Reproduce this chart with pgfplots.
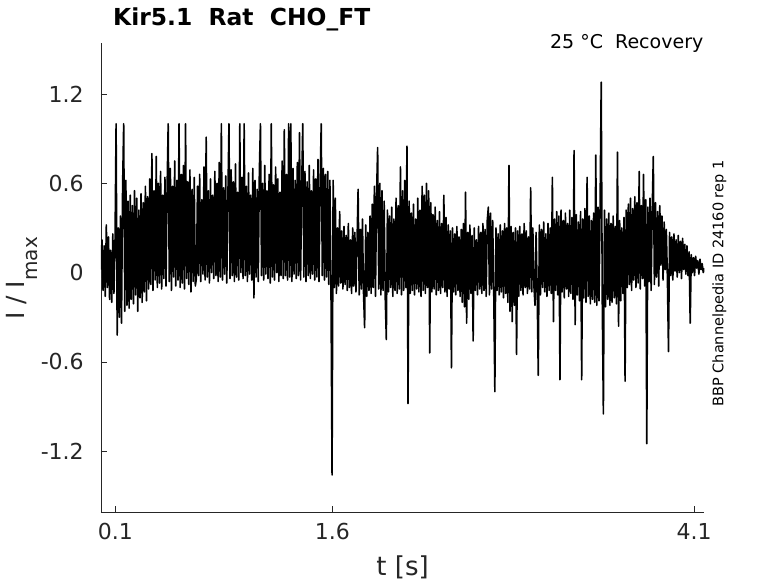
\documentclass[border=0pt]{standalone}
\usepackage{pgfplots}
\pgfplotsset{compat=1.18}
\usepackage{fontspec}
\setmainfont{DejaVu Sans}
\definecolor{axgray}{HTML}{262626}
\begin{document}
\begin{tikzpicture}
\begin{axis}[
  scale only axis, width=603.4pt, height=469pt,
  at={(0pt,0pt)}, anchor=south west,
  xmin=0, xmax=4.17, ymin=-1.611, ymax=1.541,
  axis x line=bottom, axis y line=left,
  axis line style={-, draw=axgray, line width=0.6pt},
  tick align=inside, major tick length=6pt,
  tick style={axgray, line width=0.6pt},
  xtick={0.1,1.6,4.1}, xticklabels={0.1,1.6,4.1},
  ytick={-1.2,-0.6,0,0.6,1.2}, yticklabels={-1.2,-0.6,0,0.6,1.2},
  ticklabel style={font=\fontsize{22}{26}\selectfont, text=axgray, inner sep=0pt},
  xticklabel style={anchor=north, yshift=-11pt},
  yticklabel style={anchor=east, xshift=-17pt},
]
\addplot[black, line width=1.6pt, line join=round, mark=none] table[row sep=\\, x expr=\coordindex*0.0075, y index=0] {
y\\
0.02\\ 0.22\\ -0.12\\ 0.18\\ -0.16\\ 0.32\\ -0.10\\ 0.24\\ -0.18\\ 0.15\\
-0.20\\ 0.26\\ -0.14\\ 0.19\\ 1.00\\ -0.42\\ 0.30\\ -0.30\\ 0.38\\ -0.34\\
0.58\\ 1.00\\ -0.26\\ 0.62\\ -0.22\\ 0.48\\ -0.24\\ 0.52\\ -0.18\\ 0.45\\
-0.21\\ 0.55\\ -0.15\\ 0.50\\ -0.26\\ 0.42\\ -0.17\\ 0.53\\ -0.20\\ 0.47\\
-0.13\\ 0.58\\ -0.19\\ 0.51\\ -0.11\\ 0.63\\ -0.08\\ 0.80\\ -0.12\\ 0.55\\
-0.05\\ 0.78\\ -0.10\\ 0.60\\ -0.07\\ 0.68\\ -0.11\\ 0.52\\ -0.04\\ 0.64\\
-0.09\\ 0.57\\ 1.00\\ -0.06\\ 0.70\\ -0.12\\ 0.58\\ -0.03\\ 0.75\\ -0.09\\
0.62\\ -0.05\\ 1.00\\ -0.10\\ 0.66\\ -0.07\\ 0.72\\ -0.11\\ 1.00\\ -0.04\\
0.61\\ -0.08\\ 0.69\\ -0.13\\ 0.56\\ -0.06\\ 0.64\\ -0.09\\ -0.04\\ 0.58\\
-0.02\\ 0.66\\ -0.06\\ 0.49\\ -0.01\\ 0.71\\ -0.05\\ 0.91\\ -0.03\\ 0.55\\
-0.07\\ 0.63\\ 0.00\\ 0.52\\ -0.04\\ 0.68\\ -0.02\\ 0.60\\ -0.06\\ 0.74\\
-0.03\\ 1.00\\ -0.05\\ 0.57\\ -0.01\\ 0.65\\ -0.07\\ 0.50\\ 1.00\\ -0.04\\
0.69\\ -0.02\\ 0.61\\ -0.06\\ 0.73\\ -0.03\\ 0.54\\ -0.05\\ 1.00\\ 0.00\\
0.64\\ -0.04\\ 1.00\\ -0.02\\ 0.58\\ -0.06\\ 0.67\\ -0.01\\ 0.52\\ -0.05\\
0.70\\ -0.17\\ 0.62\\ -0.03\\ 0.56\\ -0.06\\ 0.68\\ 1.00\\ -0.02\\ 0.60\\
-0.05\\ 0.72\\ -0.01\\ 0.55\\ -0.04\\ 0.66\\ -0.07\\ 1.00\\ -0.03\\ 0.59\\
-0.05\\ 0.71\\ 0.00\\ 0.63\\ -0.06\\ 0.54\\ -0.02\\ 0.75\\ -0.04\\ 0.96\\
-0.02\\ 0.66\\ -0.05\\ 1.00\\ -0.03\\ 1.00\\ -0.06\\ 0.70\\ -0.01\\ 0.62\\
-0.04\\ 0.74\\ -0.02\\ 0.94\\ -0.05\\ 0.57\\ 1.00\\ -0.03\\ 0.68\\ -0.06\\
0.61\\ -0.02\\ 0.72\\ -0.04\\ 0.55\\ -0.01\\ 0.69\\ -0.05\\ 0.63\\ -0.03\\
0.76\\ -0.06\\ 0.60\\ 1.00\\ -0.02\\ 0.70\\ -0.05\\ 0.66\\ -0.03\\ 0.68\\
-0.08\\ 0.62\\ -0.10\\ -1.36\\ 0.62\\ -0.10\\ 0.50\\ -0.14\\ 0.30\\ -0.09\\
0.41\\ -0.07\\ 0.28\\ -0.11\\ 0.31\\ -0.08\\ 0.25\\ -0.12\\ 0.33\\ -0.10\\
0.22\\ -0.14\\ 0.30\\ -0.09\\ 0.27\\ -0.13\\ 0.20\\ 0.56\\ -0.15\\ 0.29\\
-0.11\\ 0.36\\ -0.14\\ -0.37\\ 0.32\\ -0.16\\ 0.27\\ -0.12\\ 0.38\\ -0.14\\
0.46\\ -0.10\\ 0.58\\ -0.16\\ 0.52\\ 0.84\\ -0.11\\ 0.60\\ -0.15\\ 0.55\\
-0.12\\ 0.48\\ -0.17\\ -0.45\\ 0.42\\ -0.13\\ 0.38\\ -0.10\\ 0.44\\ -0.16\\
0.36\\ -0.12\\ 0.50\\ -0.14\\ 0.45\\ -0.11\\ 0.71\\ -0.15\\ 0.55\\ -0.12\\
0.62\\ -0.10\\ 0.85\\ -0.88\\ 0.48\\ -0.14\\ 0.40\\ -0.12\\ 0.46\\ -0.15\\
0.36\\ -0.11\\ 0.50\\ -0.13\\ 0.42\\ -0.16\\ 0.58\\ -0.12\\ 0.52\\ -0.14\\
0.60\\ -0.10\\ 0.55\\ -0.54\\ 0.47\\ -0.13\\ 0.39\\ -0.11\\ 0.44\\ -0.15\\
0.35\\ -0.12\\ 0.41\\ -0.14\\ 0.33\\ -0.10\\ 0.52\\ -0.13\\ 0.37\\ -0.16\\
0.32\\ -0.11\\ 0.28\\ -0.64\\ 0.30\\ -0.13\\ 0.26\\ -0.15\\ 0.31\\ -0.12\\
0.24\\ -0.16\\ 0.29\\ -0.20\\ 0.33\\ -0.23\\ 0.54\\ -0.34\\ 0.27\\ -0.18\\
0.32\\ -0.14\\ 0.25\\ -0.46\\ 0.30\\ -0.12\\ 0.22\\ -0.15\\ 0.31\\ -0.11\\
0.27\\ -0.14\\ 0.33\\ -0.12\\ 0.29\\ -0.16\\ 0.35\\ 0.44\\ -0.15\\ 0.40\\
-0.11\\ 0.35\\ -0.14\\ -0.80\\ 0.30\\ -0.12\\ 0.26\\ -0.15\\ 0.32\\ -0.13\\
0.28\\ -0.17\\ 0.33\\ -0.14\\ 0.30\\ -0.20\\ 0.72\\ -0.26\\ 0.31\\ -0.33\\
0.27\\ -0.22\\ 0.30\\ -0.55\\ 0.28\\ -0.16\\ 0.31\\ -0.12\\ 0.26\\ -0.15\\
0.33\\ -0.10\\ 0.28\\ -0.14\\ 0.24\\ -0.11\\ 0.57\\ -0.13\\ 0.30\\ -0.09\\
-0.22\\ 0.27\\ -0.12\\ -0.69\\ 0.32\\ -0.15\\ 0.29\\ -0.10\\ 0.34\\ -0.13\\
0.26\\ -0.16\\ 0.33\\ -0.12\\ 0.30\\ -0.14\\ 0.64\\ -0.33\\ 0.36\\ -0.12\\
0.41\\ -0.15\\ 0.38\\ -0.72\\ 0.42\\ -0.13\\ 0.35\\ -0.17\\ 0.40\\ -0.11\\
0.33\\ -0.16\\ 0.42\\ -0.14\\ 0.37\\ -0.18\\ 0.82\\ -0.35\\ 0.39\\ -0.15\\
0.34\\ -0.19\\ 0.41\\ -0.72\\ 0.36\\ -0.17\\ 0.43\\ -0.20\\ 0.64\\ -0.16\\
0.38\\ -0.21\\ 0.35\\ -0.18\\ 0.40\\ -0.20\\ 0.79\\ -0.22\\ 0.44\\ -0.19\\
0.47\\ 1.28\\ -0.21\\ -0.95\\ 0.42\\ -0.23\\ 0.36\\ -0.18\\ 0.40\\ -0.22\\
0.33\\ -0.20\\ 0.38\\ -0.17\\ 0.31\\ -0.21\\ 0.81\\ -0.36\\ 0.35\\ -0.19\\
0.30\\ -0.14\\ 0.37\\ -0.73\\ 0.42\\ -0.10\\ 0.46\\ -0.08\\ 0.50\\ -0.12\\
0.43\\ -0.05\\ 0.51\\ -0.10\\ 0.47\\ -0.07\\ 0.68\\ -0.11\\ 0.45\\ -0.04\\
0.66\\ -0.09\\ 0.49\\ -1.15\\ 0.44\\ -0.06\\ 0.50\\ -0.12\\ 0.42\\ 0.78\\
-0.08\\ 0.47\\ -0.03\\ 0.41\\ -0.09\\ 0.45\\ 0.05\\ 0.38\\ -0.05\\ 0.34\\
0.02\\ 0.29\\ -0.04\\ -0.53\\ 0.27\\ -0.02\\ 0.24\\ -0.05\\ 0.26\\ 0.01\\
0.22\\ -0.03\\ 0.25\\ 0.00\\ 0.21\\ -0.04\\ 0.23\\ 0.02\\ 0.19\\ -0.01\\
0.18\\ -0.02\\ 0.14\\ -0.34\\ 0.12\\ 0.00\\ 0.10\\ -0.02\\ 0.11\\ 0.03\\
0.08\\ -0.01\\ 0.09\\ 0.02\\ 0.06\\ 0.00\\ 0.03\\
};
\end{axis}
\node[anchor=base west, inner sep=0pt] at (12.1pt,486.3pt) {\fontsize{23.4}{28}\selectfont\bfseries Kir5.1~~Rat~~CHO\_FT};
\node[anchor=base east, inner sep=0pt] at (602.6pt,464pt) {\fontsize{19}{23}\selectfont 25 °C~~Recovery};
\node[rotate=90, anchor=base, inner sep=0pt] at (622.4pt,228.8pt) {\fontsize{14.5}{17}\selectfont BBP Channelpedia ID 24160 rep 1};
\node[anchor=base, text=axgray, inner sep=0pt] at (301.7pt,-62.7pt) {\fontsize{26}{30}\selectfont t [s]};
\node[rotate=90, anchor=base west, text=axgray, inner sep=0pt] at (-75.9pt,192.3pt) {\fontsize{25}{30}\selectfont I / I\raisebox{-13pt}{\fontsize{20}{24}\selectfont max}};
\pgfresetboundingbox
\path[use as bounding box] (-100.9pt,-70.7pt) rectangle (677.1pt,512.3pt);
\end{tikzpicture}
\end{document}
